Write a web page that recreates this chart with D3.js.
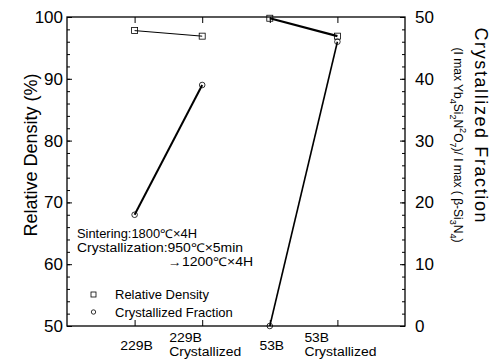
<!DOCTYPE html>
<html>
<head>
<meta charset="utf-8">
<script src="https://cdn.jsdelivr.net/npm/d3@7"></script>
<style>
  body { margin: 0; background: #fff; }
  svg { font-family: "Liberation Sans", Arial, sans-serif; }
  .axis path.domain { display: none; }
  .axis line { stroke: #000; stroke-width: 1; }
  .axis text { font-size: 17px; fill: #000; }
</style>
</head>
<body>
<script>
// samples along the x axis (each shown as one or two label lines)
var categories = ["229B", "229B Crystallized", "53B", "53B Crystallized"];
var labelLines = [["229B"], ["229B", "Crystallized"], ["53B"], ["53B", "Crystallized"]];

// relative density (%), left axis
var density = [97.8, 96.9, 99.8, 96.9];
// crystallized fraction, right axis
var fraction = [18, 39, 0, 46];

// points joined by a line: before / after crystallization
var pairs = [[0, 1], [2, 3]];

var leftTicks = [50, 60, 70, 80, 90, 100];
var rightTicks = [0, 10, 20, 30, 40, 50];

var W = 492, H = 363;
var box = { left: 67, right: 405, top: 17, bottom: 326 };

var svg = d3.select("body").append("svg")
  .attr("width", W)
  .attr("height", H);

var x = d3.scalePoint()
  .domain(categories)
  .range([box.left, box.right])
  .padding(1);

var yL = d3.scaleLinear().domain([50, 100]).range([box.bottom, box.top]);
var yR = d3.scaleLinear().domain([0, 50]).range([box.bottom, box.top]);

function noText(g) { g.selectAll("text").remove(); }

// left axis: major ticks with labels, minor ticks every 2
svg.append("g")
  .attr("class", "axis")
  .attr("transform", "translate(" + box.left + ",0)")
  .call(d3.axisLeft(yL).tickValues(leftTicks).tickSize(-5).tickSizeOuter(0).tickPadding(4));
svg.append("g")
  .attr("class", "axis")
  .attr("transform", "translate(" + box.left + ",0)")
  .call(d3.axisLeft(yL).tickValues(d3.range(52, 100, 2)).tickSize(-3).tickSizeOuter(0))
  .call(noText);

// right axis
svg.append("g")
  .attr("class", "axis")
  .attr("transform", "translate(" + box.right + ",0)")
  .call(d3.axisRight(yR).tickValues(rightTicks).tickSize(-5).tickSizeOuter(0).tickPadding(10));
svg.append("g")
  .attr("class", "axis")
  .attr("transform", "translate(" + box.right + ",0)")
  .call(d3.axisRight(yR).tickValues(d3.range(2, 50, 2)).tickSize(-3).tickSizeOuter(0))
  .call(noText);

// top and bottom ticks at the samples
svg.append("g")
  .attr("class", "axis")
  .attr("transform", "translate(0," + box.top + ")")
  .call(d3.axisTop(x).tickSize(-6).tickSizeOuter(0))
  .call(noText);
svg.append("g")
  .attr("class", "axis")
  .attr("transform", "translate(0," + box.bottom + ")")
  .call(d3.axisBottom(x).tickSize(-6).tickSizeOuter(0))
  .call(noText);

// frame
svg.append("rect")
  .attr("x", box.left).attr("y", box.top)
  .attr("width", box.right - box.left)
  .attr("height", box.bottom - box.top)
  .attr("fill", "none")
  .attr("stroke", "#000")
  .attr("stroke-width", 1.3);

// bottom category labels
var lab = svg.append("g").attr("font-size", 12);
categories.forEach(function (c, i) {
  var lines = labelLines[i];
  if (lines.length === 1) {
    lab.append("text")
      .attr("x", x(c) + 2).attr("y", 350)
      .attr("text-anchor", "middle")
      .attr("textLength", lines[0].length * 8.2)
      .attr("lengthAdjust", "spacingAndGlyphs")
      .text(lines[0]);
  } else {
    lab.append("text")
      .attr("x", x(c) - 33).attr("y", 342)
      .attr("textLength", lines[0].length * 8.2)
      .attr("lengthAdjust", "spacingAndGlyphs")
      .text(lines[0]);
    lab.append("text")
      .attr("x", x(c) - 33).attr("y", 356)
      .attr("textLength", 72)
      .attr("lengthAdjust", "spacingAndGlyphs")
      .text(lines[1]);
  }
});

// connecting lines
var densW = [1, 2.2], fracW = [2, 1.6];
pairs.forEach(function (p, k) {
  svg.append("line")
    .attr("x1", x(categories[p[0]])).attr("y1", yL(density[p[0]]))
    .attr("x2", x(categories[p[1]])).attr("y2", yL(density[p[1]]))
    .attr("stroke", "#000").attr("stroke-width", densW[k]);
  svg.append("line")
    .attr("x1", x(categories[p[0]])).attr("y1", yR(fraction[p[0]]))
    .attr("x2", x(categories[p[1]])).attr("y2", yR(fraction[p[1]]))
    .attr("stroke", "#000").attr("stroke-width", fracW[k]);
});

// markers
svg.selectAll(".sq")
  .data(density)
  .enter().append("rect")
  .attr("class", "sq")
  .attr("x", function (d, i) { return x(categories[i]) - 3; })
  .attr("y", function (d) { return yL(d) - 3; })
  .attr("width", 6).attr("height", 6)
  .attr("fill", "none").attr("stroke", "#000").attr("stroke-width", 0.8);

svg.selectAll(".dot")
  .data(fraction)
  .enter().append("circle")
  .attr("class", "dot")
  .attr("cx", function (d, i) { return x(categories[i]); })
  .attr("cy", function (d) { return yR(d); })
  .attr("r", 2.8)
  .attr("fill", "none").attr("stroke", "#000").attr("stroke-width", 0.8);

// process notes
var note = svg.append("g").attr("font-size", 12);
note.append("text").attr("x", 77).attr("y", 238)
  .attr("textLength", 120).attr("lengthAdjust", "spacingAndGlyphs")
  .text("Sintering:1800℃×4H");
note.append("text").attr("x", 77).attr("y", 252)
  .attr("textLength", 166).attr("lengthAdjust", "spacingAndGlyphs")
  .text("Crystallization:950℃×5min");
note.append("text").attr("x", 168).attr("y", 266)
  .attr("textLength", 85).attr("lengthAdjust", "spacingAndGlyphs")
  .text("→1200℃×4H");

// legend
var leg = svg.append("g").attr("font-size", 13);
leg.append("rect").attr("x", 91).attr("y", 292).attr("width", 5).attr("height", 5)
  .attr("fill", "none").attr("stroke", "#000").attr("stroke-width", 0.8);
leg.append("text").attr("x", 115).attr("y", 299).text("Relative Density");
leg.append("circle").attr("cx", 93.5).attr("cy", 312).attr("r", 2.2)
  .attr("fill", "none").attr("stroke", "#000").attr("stroke-width", 0.8);
leg.append("text").attr("x", 115).attr("y", 317).text("Crystallized Fraction");

// axis titles
svg.append("text")
  .attr("transform", "translate(31,155) rotate(-90)")
  .attr("text-anchor", "middle")
  .attr("dominant-baseline", "central")
  .attr("font-size", 18)
  .text("Relative Density (%)");

svg.append("text")
  .attr("transform", "translate(481,125) rotate(90)")
  .attr("text-anchor", "middle")
  .attr("dominant-baseline", "central")
  .attr("font-size", 18)
  .attr("textLength", 195)
  .text("Crystallized Fraction");

var sub = svg.append("text")
  .attr("transform", "translate(458,145) rotate(90)")
  .attr("text-anchor", "middle")
  .attr("dominant-baseline", "central")
  .attr("font-size", 12);
sub.append("tspan").text("(I max Yb");
sub.append("tspan").attr("baseline-shift", "sub").attr("font-size", 9).text("4");
sub.append("tspan").text("Si");
sub.append("tspan").attr("baseline-shift", "sub").attr("font-size", 9).text("2");
sub.append("tspan").text("N");
sub.append("tspan").attr("baseline-shift", "super").attr("font-size", 9).text("2");
sub.append("tspan").text("O");
sub.append("tspan").attr("baseline-shift", "sub").attr("font-size", 9).text("7");
sub.append("tspan").text(")/ I max ( β-Si");
sub.append("tspan").attr("baseline-shift", "sub").attr("font-size", 9).text("3");
sub.append("tspan").text("N");
sub.append("tspan").attr("baseline-shift", "sub").attr("font-size", 9).text("4");
sub.append("tspan").text(")");
</script>
</body>
</html>
